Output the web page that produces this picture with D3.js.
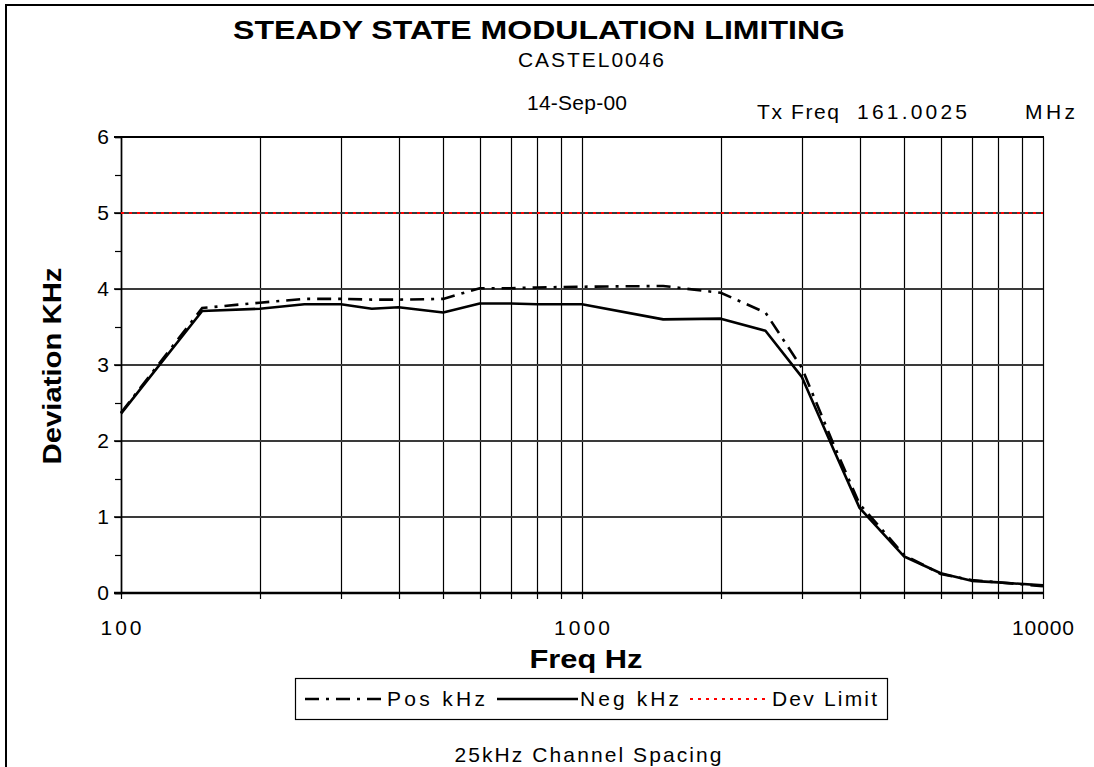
<!DOCTYPE html>
<html>
<head>
<meta charset="utf-8">
<script src="https://cdn.jsdelivr.net/npm/d3@7"></script>
<style>
  html, body { margin: 0; padding: 0; background: #fff; }
  svg { display: block; font-family: Arial, "Liberation Sans", sans-serif; }
  svg text { white-space: pre; }
</style>
</head>
<body>
<div id="chart"></div>
<script>
// ---- data ----
const freqs = [100, 150, 200, 250, 300, 350, 400, 500, 600, 700, 800, 1000, 1500, 2000, 2500, 3000, 3500, 4000, 5000, 6000, 7000, 8000, 10000]
const posKHz = [2.37, 3.75, 3.82, 3.87, 3.87, 3.86, 3.86, 3.87, 4.01, 4.01, 4.02, 4.03, 4.04, 3.95, 3.69, 2.96, 1.98, 1.17, 0.50, 0.25, 0.17, 0.14, 0.09]
const negKHz = [2.36, 3.71, 3.74, 3.80, 3.80, 3.74, 3.76, 3.69, 3.81, 3.81, 3.80, 3.80, 3.60, 3.61, 3.45, 2.84, 1.91, 1.12, 0.48, 0.26, 0.16, 0.14, 0.10]
const devLimit = [5, 5]
const devFreqs = [100, 10000]
const xTickLabels = [100, 1000, 10000]
const xTickLens = [41, 56, 62]
const yTicks = [0, 1, 2, 3, 4, 5, 6]

const W = 1094, H = 767
const margin = { top: 137, right: 51, bottom: 174, left: 121 }

const svg = d3.select('#chart').append('svg')
  .attr('width', W).attr('height', H)

// outer frame (cut off at right/bottom like the reference)
svg.append('rect')
  .attr('x', 6).attr('y', 5).attr('width', 1200).attr('height', 900)
  .attr('fill', 'none').attr('stroke', '#000').attr('stroke-width', 2)

const x = d3.scaleLog().domain([100, 10000]).range([margin.left, W - margin.right])
const y = d3.scaleLinear().domain([0, 6]).range([H - margin.bottom, margin.top])

// vertical gridlines (every log minor step), with small ticks below the axis
const xGrid = x.ticks()
svg.append('g').selectAll('line')
  .data(xGrid)
  .join('line')
  .attr('x1', d => Math.round(x(d)) + 0.5).attr('x2', d => Math.round(x(d)) + 0.5)
  .attr('y1', y(6)).attr('y2', y(0) + 6)
  .attr('stroke', '#000').attr('stroke-width', 1.2)

// horizontal gridlines
svg.append('g').selectAll('line')
  .data(yTicks.filter(d => d > 0 && d < 6))
  .join('line')
  .attr('x1', x(100) - 7).attr('x2', x(10000))
  .attr('y1', d => y(d)).attr('y2', d => y(d))
  .attr('stroke', '#3a3a3a').attr('stroke-width', 1.8)

// top border
svg.append('line')
  .attr('x1', x(100) - 7).attr('x2', x(10000) + 1)
  .attr('y1', y(6)).attr('y2', y(6))
  .attr('stroke', '#000').attr('stroke-width', 2)

// Y axis
svg.append('g')
  .attr('transform', `translate(${x(100)},0)`)
  .call(d3.axisLeft(y).tickValues(d3.range(0, 6.01, 0.5)).tickSize(6).tickFormat(''))
  .call(g => {
    g.select('.domain').attr('stroke-width', 1.6)
    g.selectAll('.tick line').attr('stroke', '#000').attr('stroke-width', 1.2)
  })

svg.append('g').selectAll('text')
  .data(yTicks)
  .join('text')
  .attr('x', x(100) - 12).attr('y', d => y(d) + 7)
  .attr('text-anchor', 'end')
  .attr('font-size', '21px')
  .text(d => d)

// X axis
svg.append('line')
  .attr('x1', x(100) - 7).attr('x2', x(10000) + 1)
  .attr('y1', y(0)).attr('y2', y(0))
  .attr('stroke', '#000').attr('stroke-width', 2.5)

svg.append('g').selectAll('text')
  .data(xTickLabels)
  .join('text')
  .attr('x', d => x(d)).attr('y', y(0) + 42)
  .attr('text-anchor', 'middle')
  .attr('font-size', '21px')
  .attr('textLength', (d, i) => xTickLens[i]).attr('lengthAdjust', 'spacing')
  .text(d => d)

// lines
const line = d3.line().x(d => x(d[0])).y(d => y(d[1]))

svg.append('path')
  .datum(devFreqs.map((f, i) => [f, devLimit[i]]))
  .attr('d', line)
  .attr('fill', 'none').attr('stroke', '#ff0000')
  .attr('stroke-width', 2).attr('stroke-dasharray', '3,5')

svg.append('path')
  .datum(freqs.map((f, i) => [f, negKHz[i]]))
  .attr('d', line)
  .attr('fill', 'none').attr('stroke', '#000')
  .attr('stroke-width', 2.6).attr('stroke-linejoin', 'round')

svg.append('path')
  .datum(freqs.map((f, i) => [f, posKHz[i]]))
  .attr('d', line)
  .attr('fill', 'none').attr('stroke', '#000')
  .attr('stroke-width', 2.6).attr('stroke-dasharray', '14,7,3,7')

// ---- texts ----
function label(txt, cx, by, size, opts = {}) {
  const t = svg.append('text')
    .attr('x', cx).attr('y', by)
    .attr('text-anchor', opts.anchor || 'middle')
    .attr('font-size', size + 'px')
    .attr('font-weight', opts.bold ? 'bold' : 'normal')
    .attr('fill', '#000')
    .text(txt)
  if (opts.len) t.attr('textLength', opts.len).attr('lengthAdjust', opts.bold ? 'spacingAndGlyphs' : 'spacing')
  return t
}

label('STEADY STATE MODULATION LIMITING', 539, 39, 25, { bold: true, len: 612 })
label('CASTEL0046', 591, 67, 21, { len: 146 })
label('14-Sep-00', 577, 110, 21, { len: 100 })
label('Tx Freq', 757, 119, 21, { anchor: 'start', len: 82 })
label('161.0025', 857, 119, 21, { anchor: 'start', len: 110 })
label('MHz', 1075, 119, 21, { anchor: 'end', len: 50 })
label('Freq Hz', 586, 668, 26, { bold: true, len: 113 })
label('25kHz Channel Spacing', 588, 762, 21, { len: 267 })

svg.append('text')
  .attr('transform', `translate(61,366) rotate(-90)`)
  .attr('text-anchor', 'middle')
  .attr('font-size', '26px').attr('font-weight', 'bold')
  .attr('textLength', 197).attr('lengthAdjust', 'spacingAndGlyphs')
  .text('Deviation KHz')

// legend
const legend = svg.append('g')
legend.append('rect')
  .attr('x', 295.5).attr('y', 678.5).attr('width', 592).attr('height', 41)
  .attr('fill', '#fff').attr('stroke', '#000').attr('stroke-width', 1.2)

const legendItems = [
  { name: 'Pos kHz', x0: 305, x1: 383, tx: 387, len: 98, stroke: '#000', dash: '14,7,3,7' },
  { name: 'Neg kHz', x0: 497, x1: 578, tx: 580, len: 99, stroke: '#000', dash: null },
  { name: 'Dev Limit', x0: 690, x1: 768, tx: 772, len: 105, stroke: '#ff0000', dash: '3,5' }
]
legendItems.forEach(it => {
  legend.append('line')
    .attr('x1', it.x0).attr('x2', it.x1).attr('y1', 699).attr('y2', 699)
    .attr('stroke', it.stroke).attr('stroke-width', it.dash === '3,5' ? 2 : 2.6)
    .attr('stroke-dasharray', it.dash)
  legend.append('text')
    .attr('x', it.tx).attr('y', 706)
    .attr('font-size', '21px')
    .attr('textLength', it.len).attr('lengthAdjust', 'spacing')
    .text(it.name)
})
</script>
</body>
</html>
